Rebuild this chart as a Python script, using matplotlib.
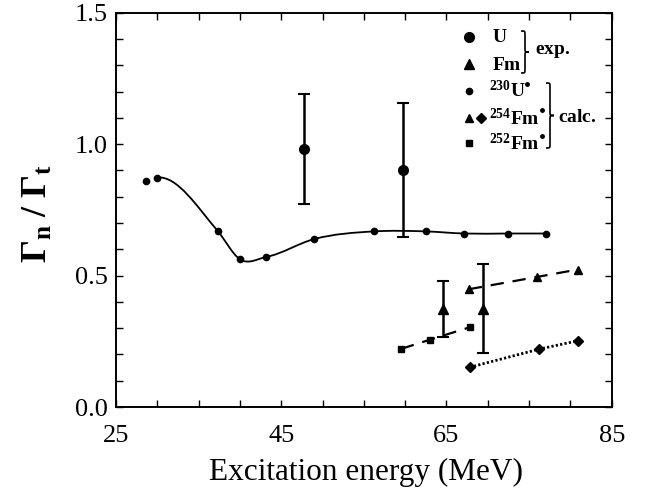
import matplotlib

matplotlib.use("Agg")
import matplotlib.pyplot as plt
from matplotlib.path import Path
from matplotlib.patches import PathPatch
from matplotlib.transforms import Affine2D

plt.rcParams["font.family"] = "serif"
plt.rcParams["font.serif"] = ["Liberation Serif", "DejaVu Serif"]
plt.rcParams["mathtext.fontset"] = "custom"
plt.rcParams["mathtext.rm"] = "Liberation Serif"
plt.rcParams["mathtext.bf"] = "Liberation Serif:bold"
plt.rcParams["mathtext.it"] = "Liberation Serif:italic"

# calc. 230U* (smooth curve)
u_calc_e = [28.6, 30.0, 37.3, 40.0, 43.2, 49.0, 56.2, 62.5, 67.1, 72.5, 77.0]
u_calc_r = [0.86, 0.873, 0.67, 0.562, 0.571, 0.639, 0.668, 0.668, 0.66, 0.66, 0.66]

# exp. U
u_exp_e = [47.7, 59.7]
u_exp_r = [0.98, 0.90]
u_exp_lo = [0.772, 0.646]
u_exp_hi = [1.19, 1.157]

# exp. Fm
fm_exp_e = [64.6, 69.4]
fm_exp_r = [0.371, 0.371]
fm_exp_lo = [0.268, 0.204]
fm_exp_hi = [0.481, 0.544]

# calc. 254Fm* (two variants) and 252Fm*
fm254_tri_e = [67.7, 76.0, 80.9]
fm254_tri_r = [0.448, 0.495, 0.523]
fm254_dia_e = [67.8, 76.2, 80.9]
fm254_dia_r = [0.151, 0.220, 0.252]
fm252_e = [59.5, 63.0, 67.8]
fm252_r = [0.221, 0.256, 0.303]

W, H = 645, 490
fig = plt.figure(figsize=(W / 100, H / 100), dpi=100)
ax = fig.add_axes([116 / W, 1 - 407 / H, 495.7 / W, 394.3 / H])
# reference-pixel coordinates (y down) for annotations
ref = Affine2D().scale(1 / W, -1 / H).translate(0, 1) + fig.transFigure


def smooth_path(xs, ys, start=0):
    """Cubic Hermite curve y(x) through the points, drawn from index `start`."""
    n = len(xs)
    slopes = [(ys[i + 1] - ys[i]) / (xs[i + 1] - xs[i]) for i in range(n - 1)]
    m = [slopes[0]]
    for i in range(1, n - 1):
        hl, hr = xs[i] - xs[i - 1], xs[i + 1] - xs[i]
        m.append((hr * slopes[i - 1] + hl * slopes[i]) / (hl + hr))
    m.append(slopes[-1])
    verts = [(xs[start], ys[start])]
    codes = [Path.MOVETO]
    for i in range(start, n - 1):
        h = xs[i + 1] - xs[i]
        verts += [(xs[i] + h / 3, ys[i] + m[i] * h / 3),
                  (xs[i + 1] - h / 3, ys[i + 1] - m[i + 1] * h / 3),
                  (xs[i + 1], ys[i + 1])]
        codes += [Path.CURVE4] * 3
    return Path(verts, codes)


# the curve in the figure starts at the second calculated point
ax.add_patch(PathPatch(smooth_path(u_calc_e, u_calc_r, start=1), fill=False, lw=1.3,
                       color="black"))
ax.plot(u_calc_e, u_calc_r, "o", color="black", ms=4.5)

err_kw = dict(fmt="none", ecolor="black", elinewidth=1.8, capsize=4, capthick=1.5)
ax.errorbar(u_exp_e, u_exp_r,
            yerr=[[r - lo for r, lo in zip(u_exp_r, u_exp_lo)],
                  [hi - r for r, hi in zip(u_exp_r, u_exp_hi)]], **err_kw)
ax.plot(u_exp_e, u_exp_r, "o", color="black", ms=7)
ax.errorbar(fm_exp_e, fm_exp_r,
            yerr=[[r - lo for r, lo in zip(fm_exp_r, fm_exp_lo)],
                  [hi - r for r, hi in zip(fm_exp_r, fm_exp_hi)]], **err_kw)
ax.plot(fm_exp_e, fm_exp_r, "^", color="black", ms=7.5)

ax.plot(fm254_tri_e, fm254_tri_r, "^", color="black", ms=5.5, lw=1.6, ls=(0, (6, 4)))
ax.plot(fm254_dia_e, fm254_dia_r, "D", color="black", ms=5, lw=2, ls=(0, (0.8, 0.8)))
ax.plot(fm252_e, fm252_r, "s", color="black", ms=4.5, lw=1.6, ls=(0, (6, 4)))

ax.set_xlim(25, 85)
ax.set_ylim(0, 1.5)
ax.set_xticks([25, 45, 65, 85])
ax.set_xticks(range(25, 86, 5), minor=True)
ax.set_yticks([0, 0.5, 1.0, 1.5])
ax.set_yticks([i / 10 for i in range(16)], minor=True)
ax.set_yticklabels(["0.0", "0.5", "1.0", "1.5"])
ax.tick_params(which="both", direction="in", top=True, right=True, length=5, width=1,
               labelsize=19)
ax.tick_params(axis="x", pad=13)
ax.tick_params(axis="y", pad=6)
for s in ax.spines.values():
    s.set_linewidth(1.4)

fig.text(366 / W, 1 - 480 / H, "Excitation energy (MeV)", ha="center", va="baseline",
         fontsize=22.5)
fig.text(38 / W, 1 - 213 / H, r"$\mathbf{\Gamma_n\ /\ \Gamma_t}$", rotation=90,
         ha="center", va="center", fontsize=26)

# legend drawn by hand (markers, labels, braces)
mk = [(468.7, 36.7, "o", 7), (468.7, 64.3, "^", 7.5), (468.7, 90.7, "o", 4.5),
      (468.7, 118.3, "^", 5.5), (481.3, 118.3, "D", 5), (468.7, 143.3, "s", 4.5),
      (527, 84, "o", 2.5), (542, 110, "o", 2.5), (542, 136, "o", 2.5)]
for px, py, m, s in mk:
    ax.plot([px], [py], m, color="black", ms=s, transform=ref, clip_on=False)

labels = [(492, 38, r"$\mathbf{U}$"), (492, 65, r"$\mathbf{Fm}$"),
          (489, 90, r"$^{\mathbf{230}}\mathbf{U}$"),
          (489, 118, r"$^{\mathbf{254}}\mathbf{Fm}$"),
          (489, 143, r"$^{\mathbf{252}}\mathbf{Fm}$"),
          (535, 51.5, r"$\mathbf{exp.}$"), (558, 117, r"$\mathbf{calc.}$")]
for px, py, t in labels:
    fig.text(px / W, 1 - py / H, t, ha="left", va="center", fontsize=14)


def brace(x0, top, bot, w):
    m = (top + bot) / 2
    r = w / 2
    xm = x0 + w / 2
    verts = [(x0, top), (xm, top), (xm, top), (xm, top + r),
             (xm, m - r), (xm, m), (xm, m), (x0 + w, m),
             (xm, m), (xm, m), (xm, m + r),
             (xm, bot - r), (xm, bot), (xm, bot), (x0, bot)]
    codes = [Path.MOVETO] + [Path.CURVE4] * 3 + [Path.LINETO] + [Path.CURVE4] * 3 + \
            [Path.CURVE4] * 3 + [Path.LINETO] + [Path.CURVE4] * 3
    fig.add_artist(PathPatch(Path(verts, codes), fill=False, lw=1.2, color="black",
                             transform=ref))


brace(521, 31, 73, 8)
brace(546, 83, 148, 8)

fig.savefig("out.png", dpi=100)
